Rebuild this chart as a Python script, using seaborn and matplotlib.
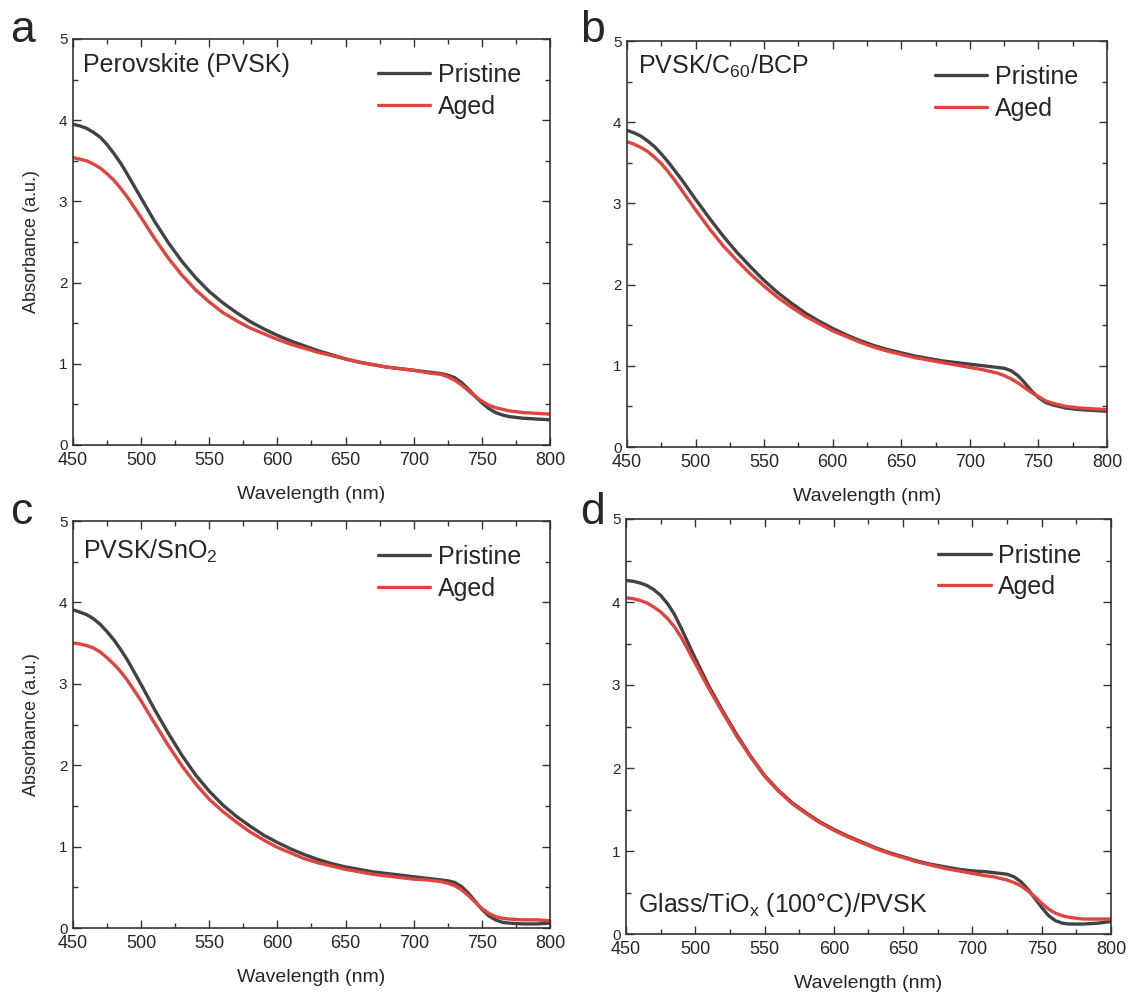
import pandas as pd
import matplotlib
matplotlib.use('Agg')
import matplotlib.pyplot as plt
import seaborn as sns
from matplotlib.ticker import MultipleLocator

sns.set_theme(style='ticks')
plt.rcParams['font.family'] = ['Liberation Sans', 'DejaVu Sans']
plt.rcParams['mathtext.fontset'] = 'custom'
plt.rcParams['mathtext.rm'] = 'Liberation Sans'
plt.rcParams['mathtext.it'] = 'Liberation Sans:italic'

# 波长 (nm)
wavelength = [450, 455, 460, 465, 470, 475, 480, 485, 490,
              500, 510, 520, 530, 540, 550, 560, 570, 580,
              590, 600, 610, 620, 630, 640, 650, 660, 670, 680, 690, 700, 710,
              715, 720, 725, 730, 735, 740, 745, 750, 755, 760, 765,
              770, 780, 790, 800]

# a: Perovskite (PVSK)
pvsk_pristine = [3.95, 3.93, 3.90, 3.85, 3.79, 3.70, 3.59, 3.47, 3.33,
                 3.04, 2.75, 2.49, 2.26, 2.06, 1.89, 1.75, 1.63, 1.52,
                 1.43, 1.35, 1.28, 1.22, 1.16, 1.11, 1.06, 1.02, 0.99, 0.96, 0.94, 0.92, 0.90,
                 0.89, 0.88, 0.86, 0.83, 0.77, 0.69, 0.60, 0.52, 0.45, 0.40, 0.37,
                 0.35, 0.33, 0.32, 0.31]
pvsk_aged = [3.54, 3.52, 3.50, 3.46, 3.41, 3.34, 3.26, 3.16, 3.05,
             2.80, 2.54, 2.30, 2.09, 1.91, 1.76, 1.63, 1.53, 1.44,
             1.37, 1.30, 1.24, 1.19, 1.14, 1.10, 1.06, 1.02, 0.99, 0.96, 0.94, 0.92, 0.89,
             0.88, 0.87, 0.84, 0.80, 0.74, 0.67, 0.60, 0.54, 0.49, 0.46, 0.44,
             0.42, 0.40, 0.39, 0.38]

# b: PVSK/C60/BCP
c60_pristine = [3.90, 3.87, 3.83, 3.77, 3.70, 3.61, 3.51, 3.40, 3.29,
                3.05, 2.82, 2.60, 2.40, 2.22, 2.05, 1.90, 1.77, 1.65,
                1.55, 1.46, 1.38, 1.31, 1.25, 1.20, 1.16, 1.12, 1.09, 1.06, 1.04, 1.02, 1.00,
                0.99, 0.98, 0.97, 0.94, 0.88, 0.79, 0.69, 0.61, 0.55, 0.52, 0.50,
                0.48, 0.46, 0.45, 0.44]
c60_aged = [3.76, 3.73, 3.69, 3.64, 3.57, 3.49, 3.39, 3.28, 3.16,
            2.92, 2.69, 2.48, 2.30, 2.13, 1.98, 1.84, 1.72, 1.61,
            1.52, 1.43, 1.36, 1.29, 1.23, 1.18, 1.14, 1.10, 1.07, 1.04, 1.01, 0.98, 0.95,
            0.93, 0.91, 0.88, 0.84, 0.79, 0.73, 0.67, 0.62, 0.57, 0.54, 0.52,
            0.50, 0.48, 0.47, 0.46]

# c: PVSK/SnO2
sno2_pristine = [3.91, 3.88, 3.85, 3.80, 3.73, 3.64, 3.54, 3.42, 3.29,
                 2.99, 2.68, 2.39, 2.12, 1.88, 1.68, 1.51, 1.37, 1.25,
                 1.14, 1.05, 0.97, 0.90, 0.84, 0.79, 0.75, 0.72, 0.69, 0.67, 0.65, 0.63, 0.61,
                 0.60, 0.59, 0.58, 0.56, 0.51, 0.43, 0.33, 0.23, 0.15, 0.10, 0.07,
                 0.06, 0.05, 0.05, 0.06]
sno2_aged = [3.50, 3.49, 3.47, 3.44, 3.39, 3.32, 3.24, 3.15, 3.04,
             2.79, 2.51, 2.24, 1.99, 1.77, 1.58, 1.43, 1.30, 1.18,
             1.08, 0.99, 0.92, 0.85, 0.80, 0.76, 0.72, 0.69, 0.66, 0.64, 0.62, 0.60, 0.59,
             0.58, 0.57, 0.55, 0.52, 0.47, 0.40, 0.32, 0.24, 0.18, 0.14, 0.12,
             0.11, 0.10, 0.10, 0.09]

# d: Glass/TiOx (100°C)/PVSK
tiox_pristine = [4.26, 4.25, 4.23, 4.20, 4.15, 4.08, 3.98, 3.85, 3.68,
                 3.32, 2.98, 2.68, 2.40, 2.14, 1.91, 1.73, 1.58, 1.46,
                 1.35, 1.26, 1.18, 1.11, 1.04, 0.98, 0.93, 0.88, 0.84, 0.81, 0.78, 0.76, 0.75,
                 0.74, 0.73, 0.72, 0.69, 0.63, 0.54, 0.43, 0.32, 0.22, 0.16, 0.13,
                 0.12, 0.12, 0.13, 0.15]
tiox_aged = [4.05, 4.04, 4.02, 3.99, 3.94, 3.88, 3.80, 3.70, 3.57,
             3.26, 2.95, 2.66, 2.38, 2.13, 1.90, 1.72, 1.57, 1.45,
             1.34, 1.25, 1.17, 1.10, 1.03, 0.97, 0.92, 0.87, 0.83, 0.79, 0.76, 0.73, 0.70,
             0.69, 0.67, 0.65, 0.62, 0.58, 0.52, 0.45, 0.37, 0.30, 0.25, 0.22,
             0.20, 0.18, 0.18, 0.18]

panels = [
    ('a', 'Perovskite (PVSK)', pvsk_pristine, pvsk_aged),
    ('b', r'PVSK/C$_\mathrm{60}$/BCP', c60_pristine, c60_aged),
    ('c', r'PVSK/SnO$_\mathrm{2}$', sno2_pristine, sno2_aged),
    ('d', r'Glass/TiO$_\mathrm{x}$ (100°C)/PVSK', tiox_pristine, tiox_aged),
]

W, H = 1129, 996
# 坐标轴位置 (像素: 左, 右, 上, 下)
boxes = [(73, 550, 39, 445), (627, 1107, 41, 447), (73, 550, 521, 928), (626, 1111, 519, 934)]
text_pos = [(0.02, 0.935), (0.022, 0.937), (0.02, 0.925), (0.024, 0.07)]
letter_pos = [(10, 42), (580, 42), (10, 524), (580, 524)]

palette = {'Pristine': '#424242', 'Aged': '#e0443e'}

fig = plt.figure(figsize=(W / 100, H / 100), dpi=100)

for i, (letter, title, pristine, aged) in enumerate(panels):
    l, r, t, b = boxes[i]
    ax = fig.add_axes([l / W, 1 - b / H, (r - l) / W, (b - t) / H])
    n = len(wavelength)
    df = pd.DataFrame({
        'Wavelength': wavelength * 2,
        'Absorbance': pristine + aged,
        'Sample': ['Pristine'] * n + ['Aged'] * n,
    })
    sns.lineplot(data=df, x='Wavelength', y='Absorbance', hue='Sample',
                 hue_order=['Pristine', 'Aged'], palette=palette,
                 linewidth=2.4, errorbar=None, ax=ax,
                 solid_joinstyle='round', solid_capstyle='round')

    ax.set_xlim(450, 800)
    ax.set_ylim(0, 5)
    ax.xaxis.set_major_locator(MultipleLocator(50))
    ax.xaxis.set_minor_locator(MultipleLocator(25))
    ax.yaxis.set_major_locator(MultipleLocator(1))
    ax.yaxis.set_minor_locator(MultipleLocator(0.5))
    ax.tick_params(which='both', direction='in', top=True, right=True,
                   color='#333333', width=1.0)
    ax.tick_params(which='major', length=6)
    ax.tick_params(which='minor', length=3.5)
    ax.tick_params(axis='x', labelsize=13, pad=5)
    ax.tick_params(axis='y', labelsize=11, pad=4)
    for s in ax.spines.values():
        s.set_linewidth(1.2)
        s.set_color('#333333')

    ax.set_xlabel('Wavelength (nm)', fontsize=14, labelpad=12)
    if i % 2 == 0:
        ax.set_ylabel('Absorbance (a.u.)', fontsize=13, labelpad=14)
    else:
        ax.set_ylabel('')

    tx, ty = text_pos[i]
    ax.text(tx, ty, title, transform=ax.transAxes, fontsize=18, ha='left', va='center')

    ax.legend(loc='upper right', bbox_to_anchor=(0.96, 0.965), frameon=False,
              fontsize=18, handlelength=2.1, handletextpad=0.3, labelspacing=0.3,
              borderaxespad=0)

    fig.text(letter_pos[i][0] / W, 1 - letter_pos[i][1] / H, letter,
             fontsize=32, ha='left', va='baseline')

fig.savefig('out.png', dpi=100)
